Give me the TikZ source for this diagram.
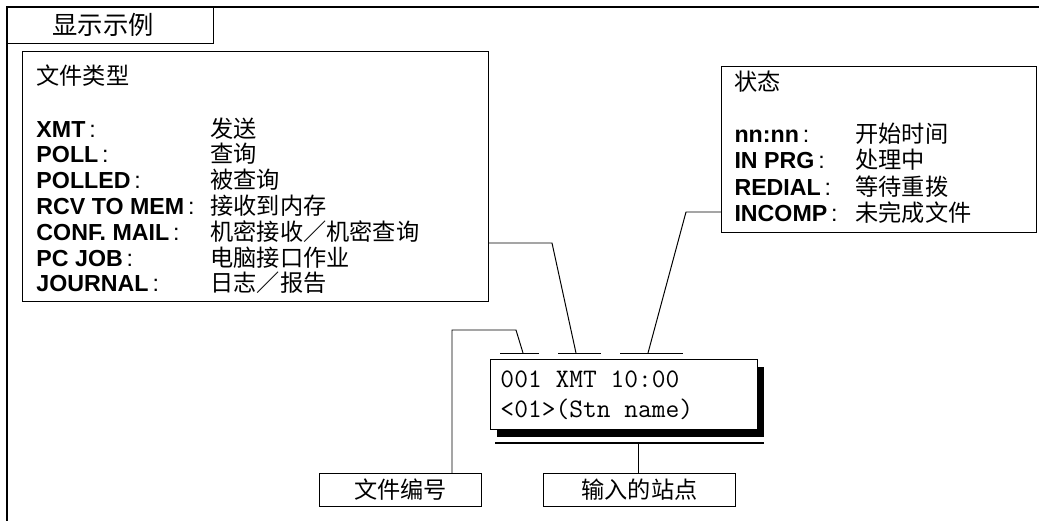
\documentclass[tikz,border=0pt]{standalone}
\usepackage{fontspec}
\setmainfont{Liberation Sans}
\newfontfamily\cjk{Noto Sans CJK SC}
\usetikzlibrary{positioning,shadows}

\begin{document}
\begin{tikzpicture}[x=0.025cm, y=-0.025cm, line width=0.7pt,
    box/.style={draw, anchor=north west, inner sep=0pt},
    txt/.style={anchor=base west, inner sep=0pt, font=\fontsize{16.5}{19}\selectfont},
    lab/.style={font=\fontsize{16.5}{19}\selectfont\cjk},
    mono/.style={anchor=base west, inner sep=0pt, font=\ttfamily\fontsize{19}{22}\selectfont}]
    \useasboundingbox (0,0) rectangle (1039,521);
    % frame and title
    \draw[line width=1pt] (1039,7) -- (7,7) -- (7,521);
    \node[box, minimum width=5.15cm, minimum height=0.9cm] (title) at (7,7) {};
    \node[font=\fontsize{18}{20}\selectfont\cjk] (titletxt) at (103,25) {显示示例};
    % file type
    \node[box, minimum width=11.65cm, minimum height=6.25cm] (ftype) at (22,51) {};
    \node[txt, font=\fontsize{16.5}{19}\selectfont\cjk] (ftypehd) at (36,84) {文件类型};
    \foreach \k/\v [count=\i] in {XMT/发送, POLL/查询, POLLED/被查询, RCV TO MEM/接收到内存,
        CONF. MAIL/机密接收／机密查询, PC JOB/电脑接口作业, JOURNAL/日志／报告} {
        \node[txt] (fk\i) at (36,{137+25.8*(\i-1)}) {\textbf{\k}\,:};
        \node[txt] (fv\i) at (210,{137+25.8*(\i-1)}) {\cjk\v};
    }
    % status
    \node[box, minimum width=7.875cm, minimum height=4.15cm] (stat) at (721,66) {};
    \node[txt, font=\fontsize{16.5}{19}\selectfont\cjk] (stathd) at (734,90) {状态};
    \foreach \k/\v [count=\i] in {nn:nn/开始时间, IN PRG/处理中, REDIAL/等待重拨, INCOMP/未完成文件} {
        \node[txt] (sk\i) at (734,{142+26.6*(\i-1)}) {\textbf{\k}\,:};
        \node[txt] (sv\i) at (855,{142+26.6*(\i-1)}) {\cjk\v};
    }
    % display
    \node[box, fill=white, minimum width=6.675cm, minimum height=1.75cm,
        drop shadow={shadow xshift=0.16cm, shadow yshift=-0.18cm, fill=black, opacity=1}] (disp) at (490,359) {};
    \node[mono] (dl1) at (500,387) {001 XMT 10:00};
    \node[mono] (dl2) at (500,417) {<01>(Stn name)};
    \foreach \a/\b in {500/539, 558/601, 620/683}
        \draw (\a,353) -- (\b,353);
    \draw[line width=1.2pt] (495,443) -- (764,443);
    % labels below
    \node[box, lab, minimum width=4.05cm, minimum height=0.825cm] (num) at (319,473) {文件编号};
    \node[box, lab, minimum width=4.8cm, minimum height=0.825cm] (stn) at (543,473) {输入的站点};
    % connectors
    \coordinate (t1) at (523,353);
    \coordinate (t2) at (576,353);
    \coordinate (t3) at (648,353);
    \coordinate (k1) at (552,243);
    \coordinate (k2) at (686,212);
    \coordinate (k3) at (452,330);
    \coordinate (ul) at (638,443);
    \draw (ftype.east |- k1) -- (k1) -- (t2);
    \draw (stat.west |- k2) -- (k2) -- (t3);
    \draw (t1) -- (516,330) -- (k3) -- (k3 |- num.north);
    \draw (ul) -- (ul |- stn.north);
\end{tikzpicture}
\end{document}
